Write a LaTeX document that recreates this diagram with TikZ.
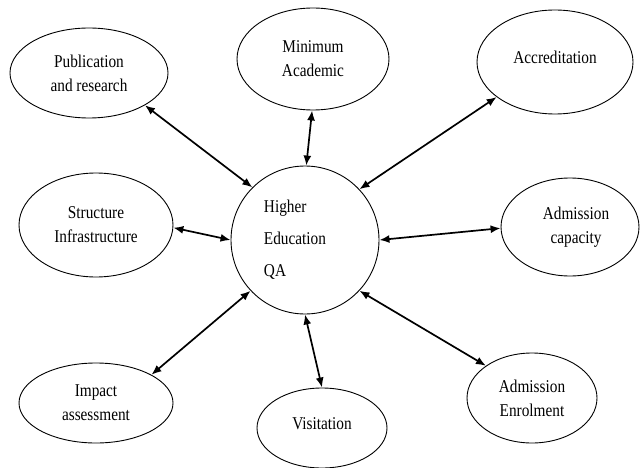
\documentclass[tikz,border=0pt]{standalone}
\usepackage{fontspec}
\setmainfont[FakeStretch=0.85]{Liberation Serif}
\usetikzlibrary{shapes.geometric,arrows.meta}
\begin{document}
\begin{tikzpicture}[x=1pt,y=-1pt,
  oval/.style={draw, ellipse, line width=0.9pt, inner sep=0pt, align=center,
               font=\fontsize{18}{24}\selectfont},
  hub/.style={draw, circle, line width=0.9pt, inner sep=0pt, align=left,
              font=\fontsize{18}{32}\selectfont},
  link/.style={{Latex[length=10pt,width=8pt]}-{Latex[length=10pt,width=8pt]}, line width=1.7pt}]
\useasboundingbox (0,0) rectangle (642,468);
\node[hub, minimum size=148pt] (qa) at (305,240) {Higher\\Education\hspace*{20pt}\mbox{}\\QA};
\node[oval, minimum width=158pt, minimum height=90pt] (pub) at (89,73) {Publication\\and research};
\node[oval, minimum width=152pt, minimum height=102pt] (min) at (313,59) {Minimum\\Academic};
\node[oval, minimum width=156pt, minimum height=104pt] (acc) at (555,62) {\raisebox{9pt}{Accreditation}};
\node[oval, minimum width=154pt, minimum height=104pt] (str) at (96,225) {Structure\\Infrastructure};
\node[oval, minimum width=138pt, minimum height=98pt] (cap) at (570,227) {\hspace*{12pt}Admission\\\hspace*{12pt}capacity};
\node[oval, minimum width=154pt, minimum height=80pt] (imp) at (96,403) {Impact\\assessment};
\node[oval, minimum width=130pt, minimum height=80pt] (vis) at (322,428) {\raisebox{8pt}{Visitation}};
\node[oval, minimum width=130pt, minimum height=90pt] (enr) at (532,398) {Admission\\Enrolment};
\draw[link] (pub.-30) -- (qa.135);
\draw[link] (min.-91) -- (qa.89);
\draw[link] (acc.211) -- (qa.43);
\draw[link] (str.-2) -- (qa.180);
\draw[link] (cap.181) -- (qa.0);
\draw[link] (imp.27) -- (qa.223);
\draw[link] (vis.90) -- (qa.270);
\draw[link] (enr.145) -- (qa.-43);
\end{tikzpicture}
\end{document}
